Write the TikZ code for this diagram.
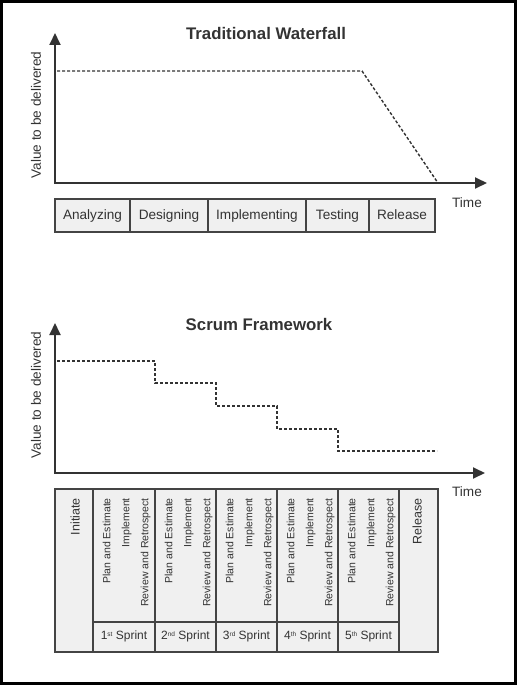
\documentclass[tikz,border=0pt]{standalone}
\usepackage{fontspec}
\setmainfont{Liberation Sans}
\usetikzlibrary{arrows.meta}
\definecolor{ink}{HTML}{333333}
\definecolor{boxline}{HTML}{444444}
\definecolor{boxfill}{HTML}{F0F0F0}
\newcommand{\ordsup}[1]{\raisebox{0.5ex}{\fontsize{6.5}{7}\selectfont #1}}
\begin{document}
\begin{tikzpicture}[x=1pt,y=-1pt,
  axis/.style={draw=ink,line width=1.9pt,{Triangle[length=12pt,width=11pt]}-{Triangle[length=12pt,width=11pt]}},
  trend/.style={draw=ink,line width=1.4pt,dash pattern=on 3pt off 2pt},
  title/.style={font=\fontsize{16.8}{18}\selectfont\bfseries,text=ink,inner sep=0pt},
  lbl/.style={font=\fontsize{13.6}{15}\selectfont,text=ink,inner sep=0pt},
  phase/.style={draw=boxline,line width=1.3pt,fill=boxfill,font=\fontsize{13.6}{15}\selectfont,text=ink,
    minimum height=33pt,inner sep=0pt,text height=10pt,text depth=3pt},
  act/.style={font=\fontsize{10.5}{12}\selectfont,text=ink,inner sep=0pt,rotate=90,anchor=east,text height=7.8pt,text depth=2.2pt},
  big/.style={font=\fontsize{12.5}{14}\selectfont,text=ink,inner sep=0pt,rotate=90,anchor=east,text height=9pt,text depth=2.6pt},
  spr/.style={font=\fontsize{12}{14}\selectfont,text=ink,inner sep=0pt,text height=9pt,text depth=2.6pt},
  grid/.style={draw=boxline,line width=1.3pt}]
\useasboundingbox (0,0) rectangle (517,685);
% outer frame
\draw[line width=3pt,black] (1.5,1.5) rectangle (515.5,683.5);

% ---------- Traditional Waterfall ----------
\node[title] (t1) at (266,33) {Traditional Waterfall};
\coordinate (o1) at (55,183);
\coordinate (y1) at (55,33);
\coordinate (x1) at (487,183);
\draw[axis] (y1) -- (o1) -- (x1);
\node[lbl,rotate=90] (v1) at (36,115) {Value to be delivered};
\node[lbl] (time1) at (467,203) {Time};
\coordinate (w0) at (57,71);
\coordinate (w1) at (362,71);
\coordinate (w2) at (438,183);
\draw[trend] (w0) -- (w1) -- (w2);
\node[phase,minimum width=75pt] (p1) at (92.5,215.5) {Analyzing};
\node[phase,minimum width=78pt] (p2) at (169,215.5) {Designing};
\node[phase,minimum width=98pt] (p3) at (257,215.5) {Implementing};
\node[phase,minimum width=63pt] (p4) at (337.5,215.5) {Testing};
\node[phase,minimum width=66pt] (p5) at (402,215.5) {Release};

% ---------- Scrum Framework ----------
\node[title] (t2) at (259,324.5) {Scrum Framework};
\coordinate (o2) at (55,473);
\coordinate (y2) at (55,323);
\coordinate (x2) at (485,473);
\draw[axis] (y2) -- (o2) -- (x2);
\node[lbl,rotate=90] (v2) at (36,395) {Value to be delivered};
\node[lbl] (time2) at (467,492) {Time};
\coordinate (s0) at (57,361);
\coordinate (s1) at (155,361);
\coordinate (s2) at (155,383);
\coordinate (s3) at (216,383);
\coordinate (s4) at (216,406);
\coordinate (s5) at (277,406);
\coordinate (s6) at (277,429);
\coordinate (s7) at (338,429);
\coordinate (s8) at (338,451);
\coordinate (s9) at (437,451);
\draw[trend] (s0) -- (s1) -- (s2) -- (s3) -- (s4) -- (s5) -- (s6) -- (s7) -- (s8) -- (s9);

% table
\draw[grid,fill=boxfill] (55,489) rectangle (438,652);
\foreach \xx in {93,155,216,277,338,399} \draw[grid] (\xx,489) -- (\xx,652);
\draw[grid] (93,622) -- (399,622);
\node[big] (init) at (76.5,498) {Initiate};
\node[big] (rel) at (418.5,498) {Release};
\foreach \L/\n in {93/1,155/2,216/3,277/4,338/5}{
  \node[act] (pe\n) at (\L+14.5,498) {Plan and Estimate};
  \node[act] (im\n) at (\L+33.5,498) {Implement};
  \node[act] (rr\n) at (\L+52.5,498) {Review and Retrospect};
}
\node[spr] (sp1) at (124,636) {1\ordsup{st} Sprint};
\node[spr] (sp2) at (185.5,636) {2\ordsup{nd} Sprint};
\node[spr] (sp3) at (246.5,636) {3\ordsup{rd} Sprint};
\node[spr] (sp4) at (307.5,636) {4\ordsup{th} Sprint};
\node[spr] (sp5) at (368.5,636) {5\ordsup{th} Sprint};
\end{tikzpicture}
\end{document}
